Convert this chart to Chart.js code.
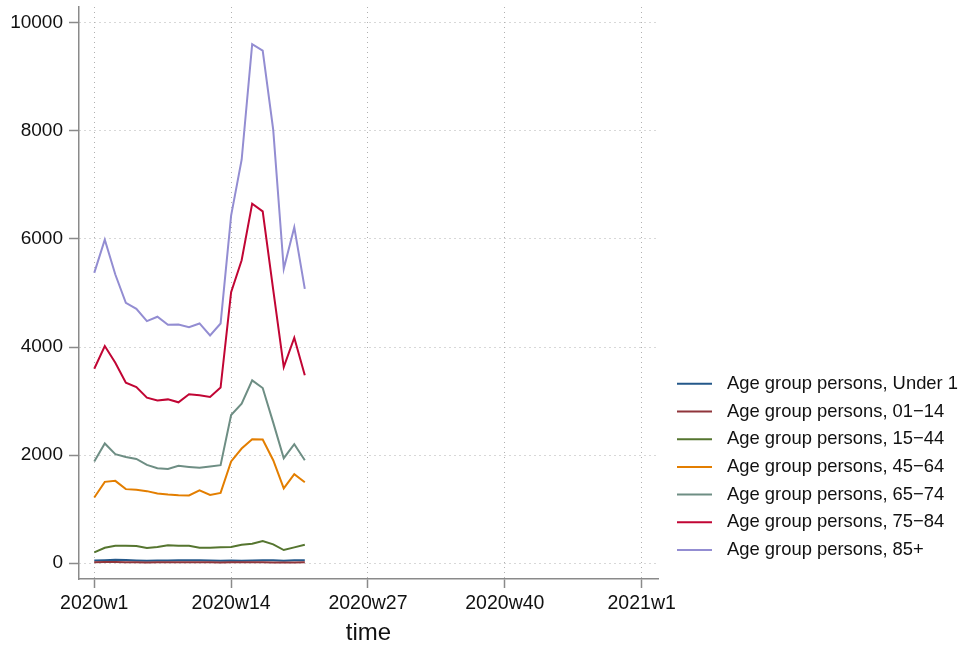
<!DOCTYPE html>
<html>
<head>
<meta charset="utf-8">
<script src="https://cdn.jsdelivr.net/npm/chart.js@4"></script>
<style>
html, body { margin: 0; padding: 0; background: #fff; }
#wrap { width: 976px; height: 648px; }
</style>
</head>
<body>
<div id="wrap"><canvas id="myChart" width="976" height="648"></canvas></div>
<script>
// weeks of 2020 (2020w1 = 1)
const weeks = [1, 2, 3, 4, 5, 6, 7, 8, 9, 10, 11, 12, 13, 14, 15, 16, 17, 18, 19, 20, 21];

const under1  = [45, 52, 62, 55, 48, 40, 45, 48, 50, 52, 50, 45, 44, 48, 42, 48, 52, 50, 40, 50, 50];
const age0114 = [15, 20, 18, 15, 12, 10, 12, 14, 12, 12, 14, 12, 10, 12, 14, 15, 12, 10, 8, 10, 12];
const age1544 = [198, 283, 320, 320, 314, 277, 296, 327, 320, 320, 283, 283, 290, 296, 338, 357, 407, 345, 240, 290, 338];
const age4564 = [1214, 1503, 1521, 1368, 1355, 1331, 1288, 1270, 1257, 1251, 1344, 1262, 1299, 1880, 2120, 2292, 2287, 1904, 1381, 1645, 1497];
const age6574 = [1880, 2213, 2015, 1965, 1928, 1817, 1756, 1743, 1799, 1780, 1762, 1787, 1811, 2741, 2952, 3383, 3240, 2600, 1941, 2200, 1904];
const age7584 = [3598, 4017, 3710, 3340, 3259, 3063, 3010, 3030, 2976, 3124, 3105, 3074, 3248, 5015, 5606, 6654, 6512, 5060, 3628, 4172, 3475];
const age85   = [5373, 5989, 5342, 4819, 4708, 4479, 4560, 4412, 4418, 4368, 4436, 4214, 4436, 6432, 7468, 9606, 9488, 8022, 5447, 6216, 5077];

const seriesNames = [
    'Age group persons, Under 1',
    'Age group persons, 01\u221214',
    'Age group persons, 15\u221244',
    'Age group persons, 45\u221264',
    'Age group persons, 65\u221274',
    'Age group persons, 75\u221284',
    'Age group persons, 85+'
];
const seriesColors = ['#24588a', '#90353b', '#55752f', '#e37e00', '#6e8e84', '#c10534', '#938dd2'];

const xTickWeeks = [1, 14, 27, 40, 53];
const xTickLabels = ['2020w1', '2020w14', '2020w27', '2020w40', '2021w1'];
const yTicks = [0, 2000, 4000, 6000, 8000, 10000];

const fontFamily = "'Liberation Sans', Arial, sans-serif";
Chart.defaults.font.family = fontFamily;
Chart.defaults.color = '#111';

const allSeries = [under1, age0114, age1544, age4564, age6574, age7584, age85];

const datasets = allSeries.map((vals, i) => ({
    label: seriesNames[i],
    data: vals.map((v, k) => ({ x: weeks[k], y: v })),
    borderColor: seriesColors[i],
    backgroundColor: seriesColors[i],
    borderWidth: 2,
    pointRadius: 0,
    tension: 0,
    order: allSeries.length - 1 - i
}));

// legend drawn at the right, lines + text
const sideLegend = {
    id: 'sideLegend',
    afterDraw(chart) {
        const { ctx, chartArea } = chart;
        const x0 = chartArea.right + 19;
        const rowH = 27.7;
        const n = chart.data.datasets.length;
        let y = chartArea.bottom - 29 - (n - 1) * rowH;
        ctx.save();
        ctx.font = '18.4px ' + fontFamily;
        ctx.textBaseline = 'middle';
        ctx.textAlign = 'left';
        chart.data.datasets.forEach(ds => {
            ctx.strokeStyle = ds.borderColor;
            ctx.lineWidth = 2;
            ctx.beginPath();
            ctx.moveTo(x0, y);
            ctx.lineTo(x0 + 35, y);
            ctx.stroke();
            ctx.fillStyle = '#111';
            ctx.fillText(ds.label, x0 + 50, y);
            y += rowH;
        });
        ctx.restore();
    }
};

const gridColor = '#b0b0b0';
const axisColor = '#8a8a8a';

const ctx = document.getElementById('myChart').getContext('2d');
const myChart = new Chart(ctx, {
    type: 'line',
    data: { datasets: datasets },
    options: {
        responsive: false,
        animation: false,
        devicePixelRatio: 1,
        layout: { padding: { top: 7, right: 318, left: 0, bottom: 0 } },
        plugins: {
            legend: { display: false },
            tooltip: { enabled: false }
        },
        scales: {
            x: {
                type: 'linear',
                min: -0.45,
                max: 54.55,
                afterBuildTicks: s => { s.ticks = xTickWeeks.map(v => ({ value: v })); },
                afterFit: s => { s.height = 69; s.paddingLeft = 0; s.paddingRight = 0; },
                ticks: {
                    autoSkip: false,
                    maxRotation: 0,
                    padding: 4,
                    font: { size: 19.5 },
                    callback: (v, i) => xTickLabels[i]
                },
                grid: {
                    color: gridColor,
                    lineWidth: 1,
                    tickLength: 9,
                    tickColor: axisColor,
                    tickWidth: 1.5
                },
                border: { color: axisColor, width: 1.5, dash: [1, 4] },
                title: {
                    display: true,
                    text: 'time',
                    font: { size: 24 },
                    padding: { top: 0, bottom: 0.5 }
                }
            },
            y: {
                min: -296,
                max: 10296,
                afterBuildTicks: s => { s.ticks = yTicks.map(v => ({ value: v })); },
                afterFit: s => { s.width = 79; s.paddingTop = 0; s.paddingBottom = 0; },
                ticks: {
                    padding: 6,
                    font: { size: 19 },
                    callback: v => String(v)
                },
                grid: {
                    color: gridColor,
                    lineWidth: 1,
                    tickLength: 10,
                    tickColor: axisColor,
                    tickWidth: 1.5
                },
                border: { color: axisColor, width: 1.5, dash: [1, 4] }
            }
        }
    },
    plugins: [sideLegend]
});
</script>
</body>
</html>
